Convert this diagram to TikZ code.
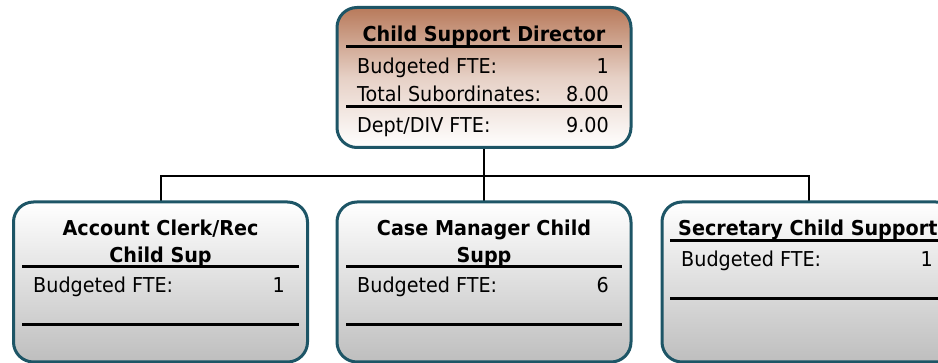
\documentclass[tikz,border=0pt]{standalone}
\usepackage{fontspec}
\setmainfont[FakeStretch=0.935]{DejaVu Sans}
\definecolor{bord}{HTML}{1D5566}
\definecolor{topbrown}{HTML}{B87A5B}
\definecolor{botgrey}{HTML}{BEBEBE}
\tikzset{
  box/.style={draw=bord, line width=3pt, rounded corners=20pt, minimum width=294pt, minimum height=160pt, inner sep=0pt},
  dirbox/.style={box, minimum height=140pt, top color=topbrown, bottom color=white, middle color=topbrown!35!white},
  subbox/.style={box, top color=white, bottom color=botgrey},
  ttl/.style={inner sep=0pt, anchor=base, font=\fontsize{20.5}{24}\selectfont\bfseries},
  lbl/.style={inner sep=0pt, anchor=base west, font=\fontsize{20.5}{24}\selectfont},
  val/.style={inner sep=0pt, anchor=base east, font=\fontsize{20.5}{24}\selectfont},
  rule/.style={line width=3pt, black},
  conn/.style={line width=2pt, black}
}
\begin{document}
\begin{tikzpicture}[x=1pt, y=-1pt]
\useasboundingbox (0,0) rectangle (938,363);
\clip (0,0) rectangle (938,363);
\coordinate (j) at (484,176);
% connectors (drawn first, boxes cover their ends)
\path (484,147.5) coordinate (dirs) (160.5,202) coordinate (b1n) (484,202) coordinate (b2n) (809,202) coordinate (b3n);
\draw[conn] (dirs) -- (j);
\draw[conn] (b1n) |- (j) -| (b3n);
\draw[conn] (j) -- (b2n);
% boxes
\node[dirbox] (dir) at (484,77.5) {};
\node[subbox] (b1) at (160.5,282) {};
\node[subbox] (b2) at (484,282) {};
\node[subbox] (b3) at (809,282) {};
% director texts
\node[ttl] (t0) at (484,42) {Child Support Director};
\draw[rule] (346,47) -- (622,47);
\node[lbl] (l0a) at (357,74) {Budgeted FTE:};
\node[val] (v0a) at (609,74) {1};
\node[lbl] (l0b) at (357,102) {Total Subordinates:};
\node[val] (v0b) at (609,102) {8.00};
\draw[rule] (346,107) -- (622,107);
\node[lbl] (l0c) at (357,133) {Dept/DIV FTE:};
\node[val] (v0c) at (609,133) {9.00};
% box 1
\node[ttl] (t1a) at (160.5,236) {Account Clerk/Rec};
\node[ttl] (t1b) at (160.5,263) {Child Sup};
\draw[rule] (22,267) -- (299,267);
\node[lbl] (l1) at (33,293) {Budgeted FTE:};
\node[val] (v1) at (285,293) {1};
\draw[rule] (22,325) -- (299,325);
% box 2
\node[ttl] (t2a) at (484,236) {Case Manager Child};
\node[ttl] (t2b) at (484,263) {Supp};
\draw[rule] (346,267) -- (622,267);
\node[lbl] (l2) at (357,293) {Budgeted FTE:};
\node[val] (v2) at (609,293) {6};
\draw[rule] (346,325) -- (622,325);
% box 3
\node[ttl, anchor=base west] (t3) at (678,236) {Secretary Child Support};
\draw[rule] (670,241) -- (950,241);
\node[lbl] (l3) at (681,267) {Budgeted FTE:};
\node[val] (v3) at (933,267) {1};
\draw[rule] (670,299) -- (950,299);
\end{tikzpicture}
\end{document}
